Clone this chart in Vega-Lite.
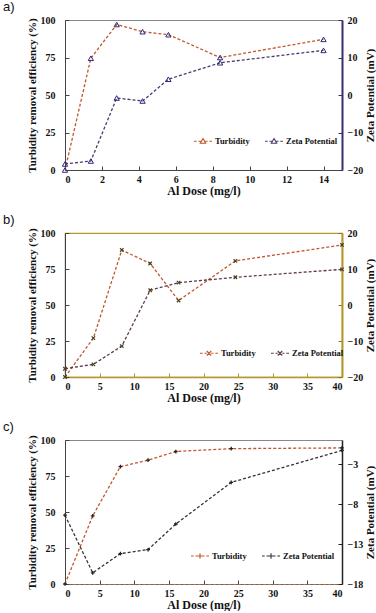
{
  "$schema": "https://vega.github.io/schema/vega-lite/v6.json",
  "padding": {"left": 2, "top": 0, "right": 1, "bottom": 0},
  "background": "white",
  "config": {
    "font": "Liberation Serif",
    "axis": {
      "grid": false,
      "labelFont": "Liberation Serif", "labelFontWeight": "bold", "labelFontSize": 10, "labelColor": "#111",
      "titleFont": "Liberation Serif", "titleFontWeight": "bold", "titleFontSize": 11, "titleColor": "#111",
      "tickSize": -4, "labelPadding": 9, "domainColor": "#444", "tickColor": "#444"
    },
    "axisLeft": {"labelPadding": 14, "titlePadding": 3},
    "axisRight": {"labelPadding": 9, "titlePadding": 2, "titleBaseline": "top"},
    "axisBottom": {"labelPadding": 8, "titlePadding": 1, "titleFontSize": 12},
    "legend": {
      "labelFont": "Liberation Serif", "labelFontWeight": "bold", "labelFontSize": 8.5, "labelColor": "#111",
      "orient": "none", "direction": "horizontal", "symbolStrokeWidth": 1.1, "symbolSize": 324, "columnPadding": 12, "labelOffset": 2
    },
    "title": {"font": "Liberation Sans", "fontSize": 13, "fontWeight": "normal", "anchor": "start", "frame": "group", "dx": -62, "offset": 1, "color": "#111"}
  },
  "datasets": {
    "d": [
      {"p": "a", "s": "Turbidity", "x": 0, "v": 0},
      {"p": "a", "s": "Turbidity", "x": 1.4, "v": 74.5},
      {"p": "a", "s": "Turbidity", "x": 2.8, "v": 97},
      {"p": "a", "s": "Turbidity", "x": 4.2, "v": 92.2},
      {"p": "a", "s": "Turbidity", "x": 5.6, "v": 90.2},
      {"p": "a", "s": "Turbidity", "x": 8.4, "v": 75},
      {"p": "a", "s": "Turbidity", "x": 14, "v": 87.1},
      {"p": "a", "s": "Zeta Potential", "x": 0, "v": -18.4},
      {"p": "a", "s": "Zeta Potential", "x": 1.4, "v": -17.6},
      {"p": "a", "s": "Zeta Potential", "x": 2.8, "v": -0.8},
      {"p": "a", "s": "Zeta Potential", "x": 4.2, "v": -1.6},
      {"p": "a", "s": "Zeta Potential", "x": 5.6, "v": 4.2},
      {"p": "a", "s": "Zeta Potential", "x": 8.4, "v": 8.6},
      {"p": "a", "s": "Zeta Potential", "x": 14, "v": 11.9},
      {"p": "b", "s": "Turbidity", "x": 0, "v": 0},
      {"p": "b", "s": "Turbidity", "x": 4.1, "v": 27},
      {"p": "b", "s": "Turbidity", "x": 8.2, "v": 88.2},
      {"p": "b", "s": "Turbidity", "x": 12.3, "v": 78.8},
      {"p": "b", "s": "Turbidity", "x": 16.4, "v": 53.1},
      {"p": "b", "s": "Turbidity", "x": 24.6, "v": 80.6},
      {"p": "b", "s": "Turbidity", "x": 40, "v": 91.7},
      {"p": "b", "s": "Zeta Potential", "x": 0, "v": -17.7},
      {"p": "b", "s": "Zeta Potential", "x": 4.1, "v": -16.5},
      {"p": "b", "s": "Zeta Potential", "x": 8.2, "v": -11.4},
      {"p": "b", "s": "Zeta Potential", "x": 12.3, "v": 4.1},
      {"p": "b", "s": "Zeta Potential", "x": 16.4, "v": 6.2},
      {"p": "b", "s": "Zeta Potential", "x": 24.6, "v": 7.7},
      {"p": "b", "s": "Zeta Potential", "x": 40, "v": 9.9},
      {"p": "c", "s": "Turbidity", "x": 0, "v": 0},
      {"p": "c", "s": "Turbidity", "x": 4, "v": 47.3},
      {"p": "c", "s": "Turbidity", "x": 8, "v": 81.5},
      {"p": "c", "s": "Turbidity", "x": 12, "v": 86},
      {"p": "c", "s": "Turbidity", "x": 16, "v": 92},
      {"p": "c", "s": "Turbidity", "x": 24, "v": 94},
      {"p": "c", "s": "Turbidity", "x": 40, "v": 94.5},
      {"p": "c", "s": "Zeta Potential", "x": 0, "v": -9.4},
      {"p": "c", "s": "Zeta Potential", "x": 4, "v": -16.6},
      {"p": "c", "s": "Zeta Potential", "x": 8, "v": -14.2},
      {"p": "c", "s": "Zeta Potential", "x": 12, "v": -13.7},
      {"p": "c", "s": "Zeta Potential", "x": 16, "v": -10.5},
      {"p": "c", "s": "Zeta Potential", "x": 24, "v": -5.3},
      {"p": "c", "s": "Zeta Potential", "x": 40, "v": -1.3}
    ]
  },
  "vconcat": [
    {
      "title": "a)",
      "width": 277, "height": 150,
      "view": {"stroke": "#888", "strokeWidth": 1},
      "data": {"name": "d"},
      "transform": [{"filter": "datum.p === 'a'"}],
      "layer": [
        {
          "transform": [{"filter": "datum.s === 'Turbidity'"}],
          "encoding": {
            "x": {"field": "x", "type": "quantitative", "title": "Al Dose (mg/l)", "scale": {"domain": [0, 15], "nice": false}, "axis": {"values": [0, 2, 4, 6, 8, 10, 12, 14]}},
            "y": {"field": "v", "type": "quantitative", "title": "Turbidity removal efficiency (%)", "scale": {"domain": [0, 100], "nice": false}, "axis": {"values": [0, 25, 50, 75, 100]}}
          },
          "layer": [
            {
              "mark": {"type": "line", "strokeDash": [3, 2], "strokeWidth": 1.3},
              "encoding": {"color": {"field": "s", "type": "nominal", "scale": {"domain": ["Turbidity", "Zeta Potential"], "range": ["#c0562e", "#4b3a70"]},
                "legend": {"title": null, "legendX": 128, "legendY": 111, "symbolType": "M-1,0H-0.7M-0.5,0H-0.25M0.25,0H0.5M0.7,0H1M0,-0.3L0.3,0.22H-0.3Z"}}}
            },
            {"mark": {"type": "point", "shape": "triangle-up", "filled": false, "color": "#2f2a7a", "size": 28, "strokeWidth": 1, "opacity": 1}}
          ]
        },
        {
          "transform": [{"filter": "datum.s === 'Zeta Potential'"}],
          "encoding": {
            "x": {"field": "x", "type": "quantitative", "title": "Al Dose (mg/l)", "scale": {"domain": [0, 15], "nice": false}, "axis": {"values": [0, 2, 4, 6, 8, 10, 12, 14]}},
            "y": {"field": "v", "type": "quantitative", "title": "Zeta Potential (mV)", "scale": {"domain": [-20, 20], "nice": false}, "axis": {"orient": "right", "values": [-20, -10, 0, 10, 20], "titleAngle": 270, "domainColor": "#3a2d6e", "domainWidth": 2, "tickColor": "#3a2d6e"}}
          },
          "layer": [
            {
              "mark": {"type": "line", "strokeDash": [3, 2], "strokeWidth": 1.3},
              "encoding": {"color": {"field": "s", "type": "nominal", "scale": {"domain": ["Turbidity", "Zeta Potential"], "range": ["#c0562e", "#4b3a70"]},
                "legend": {"title": null, "legendX": 128, "legendY": 111, "symbolType": "M-1,0H-0.7M-0.5,0H-0.25M0.25,0H0.5M0.7,0H1M0,-0.3L0.3,0.22H-0.3Z"}}}
            },
            {"mark": {"type": "point", "shape": "triangle-up", "filled": false, "color": "#2f2a7a", "size": 28, "strokeWidth": 1, "opacity": 1}}
          ]
        }
      ],
      "resolve": {"scale": {"y": "independent"}}
    },
    {
      "title": "b)",
      "width": 277, "height": 144,
      "view": {"stroke": "#b8962e", "strokeWidth": 1.2},
      "data": {"name": "d"},
      "transform": [{"filter": "datum.p === 'b'"}],
      "layer": [
        {
          "transform": [{"filter": "datum.s === 'Turbidity'"}],
          "encoding": {
            "x": {"field": "x", "type": "quantitative", "title": "Al Dose (mg/l)", "scale": {"domain": [0, 40], "nice": false}, "axis": {"values": [0, 5, 10, 15, 20, 25, 30, 35, 40], "domainColor": "#b8962e", "tickColor": "#b8962e", "domainWidth": 1.5}},
            "y": {"field": "v", "type": "quantitative", "title": "Turbidity removal efficiency (%)", "scale": {"domain": [0, 100], "nice": false}, "axis": {"values": [0, 25, 50, 75, 100], "domainColor": "#3d3d55"}}
          },
          "layer": [
            {
              "mark": {"type": "line", "strokeDash": [3, 2], "strokeWidth": 1.3},
              "encoding": {"color": {"field": "s", "type": "nominal", "scale": {"domain": ["Turbidity", "Zeta Potential"], "range": ["#c0562e", "#5c3b4e"]},
                "legend": {"title": null, "legendX": 134, "legendY": 110, "symbolType": "M-1,0H-0.7M-0.5,0H-0.25M0.25,0H0.5M0.7,0H1M-0.25,-0.25L0.25,0.25M-0.25,0.25L0.25,-0.25"}}}
            },
            {"mark": {"type": "point", "shape": "M-1,-1L1,1M-1,1L1,-1", "filled": false, "color": "#4a4020", "size": 12, "strokeWidth": 1.2, "opacity": 1}}
          ]
        },
        {
          "transform": [{"filter": "datum.s === 'Zeta Potential'"}],
          "encoding": {
            "x": {"field": "x", "type": "quantitative", "title": "Al Dose (mg/l)", "scale": {"domain": [0, 40], "nice": false}, "axis": {"values": [0, 5, 10, 15, 20, 25, 30, 35, 40], "domainColor": "#b8962e", "tickColor": "#b8962e", "domainWidth": 1.5}},
            "y": {"field": "v", "type": "quantitative", "title": "Zeta Potential (mV)", "scale": {"domain": [-20, 20], "nice": false}, "axis": {"orient": "right", "values": [-20, -10, 0, 10, 20], "titleAngle": 270, "domainColor": "#b8962e", "domainWidth": 2, "tickColor": "#8a7020"}}
          },
          "layer": [
            {
              "mark": {"type": "line", "strokeDash": [3, 2], "strokeWidth": 1.3},
              "encoding": {"color": {"field": "s", "type": "nominal", "scale": {"domain": ["Turbidity", "Zeta Potential"], "range": ["#c0562e", "#5c3b4e"]},
                "legend": {"title": null, "legendX": 134, "legendY": 110, "symbolType": "M-1,0H-0.7M-0.5,0H-0.25M0.25,0H0.5M0.7,0H1M-0.25,-0.25L0.25,0.25M-0.25,0.25L0.25,-0.25"}}}
            },
            {"mark": {"type": "point", "shape": "M-1,-1L1,1M-1,1L1,-1", "filled": false, "color": "#4a4020", "size": 12, "strokeWidth": 1.2, "opacity": 1}}
          ]
        }
      ],
      "resolve": {"scale": {"y": "independent"}}
    },
    {
      "title": "c)",
      "width": 277, "height": 144,
      "view": {"stroke": "#888", "strokeWidth": 1},
      "data": {"name": "d"},
      "transform": [{"filter": "datum.p === 'c'"}],
      "layer": [
        {
          "transform": [{"filter": "datum.s === 'Turbidity'"}],
          "encoding": {
            "x": {"field": "x", "type": "quantitative", "title": "Al Dose (mg/l)", "scale": {"domain": [0, 40], "nice": false}, "axis": {"values": [0, 5, 10, 15, 20, 25, 30, 35, 40], "domainColor": "#9a5a30", "domainDash": [3, 2], "tickColor": "#444", "titlePadding": 1}},
            "y": {"field": "v", "type": "quantitative", "title": "Turbidity removal efficiency (%)", "scale": {"domain": [0, 100], "nice": false}, "axis": {"values": [0, 25, 50, 75, 100]}}
          },
          "layer": [
            {
              "mark": {"type": "line", "strokeDash": [3, 2], "strokeWidth": 1.3},
              "encoding": {"color": {"field": "s", "type": "nominal", "scale": {"domain": ["Turbidity", "Zeta Potential"], "range": ["#c0562e", "#333333"]},
                "legend": {"title": null, "legendX": 125, "legendY": 106, "symbolType": "M-1,0H-0.7M-0.5,0H-0.25M0.25,0H0.5M0.7,0H1M-0.3,0H0.3M0,-0.3V0.3"}}}
            },
            {"mark": {"type": "point", "shape": "M-1,0H1M0,-1V1", "filled": false, "color": "#222", "size": 14, "strokeWidth": 1.3, "opacity": 1}}
          ]
        },
        {
          "transform": [{"filter": "datum.s === 'Zeta Potential'"}],
          "encoding": {
            "x": {"field": "x", "type": "quantitative", "title": "Al Dose (mg/l)", "scale": {"domain": [0, 40], "nice": false}, "axis": {"values": [0, 5, 10, 15, 20, 25, 30, 35, 40], "domainColor": "#9a5a30", "domainDash": [3, 2], "tickColor": "#444", "titlePadding": 1}},
            "y": {"field": "v", "type": "quantitative", "title": "Zeta Potential (mV)", "scale": {"domain": [-18, 0], "nice": false}, "axis": {"orient": "right", "values": [-18, -13, -8, -3], "titleAngle": 270, "domainColor": "#222", "domainWidth": 1.5, "tickColor": "#222"}}
          },
          "layer": [
            {
              "mark": {"type": "line", "strokeDash": [3, 2], "strokeWidth": 1.3},
              "encoding": {"color": {"field": "s", "type": "nominal", "scale": {"domain": ["Turbidity", "Zeta Potential"], "range": ["#c0562e", "#333333"]},
                "legend": {"title": null, "legendX": 125, "legendY": 106, "symbolType": "M-1,0H-0.7M-0.5,0H-0.25M0.25,0H0.5M0.7,0H1M-0.3,0H0.3M0,-0.3V0.3"}}}
            },
            {"mark": {"type": "point", "shape": "M-1,0H1M0,-1V1", "filled": false, "color": "#222", "size": 14, "strokeWidth": 1.3, "opacity": 1}}
          ]
        }
      ],
      "resolve": {"scale": {"y": "independent"}}
    }
  ],
  "spacing": 16,
  "resolve": {"scale": {"color": "independent", "x": "independent", "y": "independent"}, "legend": {"color": "independent"}}
}
